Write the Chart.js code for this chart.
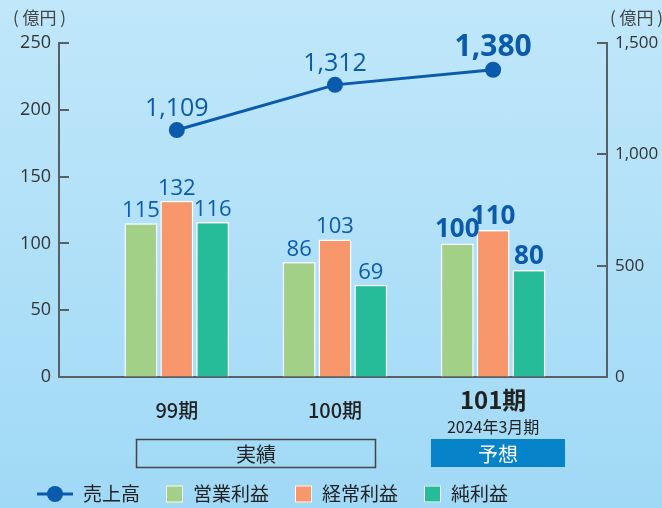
<!DOCTYPE html>
<html>
<head>
<meta charset="utf-8">
<script src="https://cdn.jsdelivr.net/npm/chart.js@4/dist/chart.umd.min.js"></script>
<style>
  html, body { margin: 0; padding: 0; }
  body { width: 662px; height: 508px; background: linear-gradient(#c0e7fa, #a0d9f6); }
  canvas { display: block; }
</style>
</head>
<body>
<canvas id="chart" width="662" height="508"></canvas>
<script>
const periods = ['99期', '100期', '101期'];
const subLabel = '2024年3月期';
const sales = [1109, 1312, 1380];
const operatingProfit = [115, 86, 100];
const ordinaryProfit = [132, 103, 110];
const netProfit = [116, 69, 80];
const leftTicks = [0, 50, 100, 150, 200, 250];
const rightTicks = [0, 500, 1000, 1500];
const unitLabel = '( 億円 )';
const groupLabels = ['実績', '予想'];

const JP = '"Noto Sans CJK JP", sans-serif';
const NUM = '"Open Sans", "Noto Sans CJK JP", sans-serif';
const BLUE = '#0a5bab';

const pts = arr => arr.map((v, i) => ({ x: i, y: v }));

// value labels, axis ticks drawn inward, category labels, boxes, legend
const decor = {
  id: 'decor',
  afterDatasetsDraw(chart) {
    const ctx = chart.ctx;
    ctx.save();
    ctx.fillStyle = BLUE;
    ctx.textAlign = 'center';
    ctx.textBaseline = 'alphabetic';
    chart.data.datasets.forEach((ds, di) => {
      const meta = chart.getDatasetMeta(di);
      meta.data.forEach((el, i) => {
        const v = ds.data[i].y;
        const txt = v.toLocaleString('en-US');
        if (ds.type === 'line') {
          ctx.font = i === 2 ? 'bold 30px ' + NUM : '25px ' + NUM;
          ctx.fillText(txt, el.x, el.y - 14);
        } else {
          ctx.font = i === 2 ? 'bold 26px ' + NUM : '22px ' + NUM;
          ctx.fillText(txt, el.x, el.y - 6);
        }
      });
    });
    ctx.restore();
  },
  afterDraw(chart) {
    const ctx = chart.ctx;
    const a = chart.chartArea;
    const x = chart.scales.x, y = chart.scales.y, y1 = chart.scales.y1;
    ctx.save();
    ctx.strokeStyle = '#5a5f63';
    ctx.lineWidth = 2;
    leftTicks.forEach(t => {
      const py = Math.round(y.getPixelForValue(t));
      ctx.beginPath(); ctx.moveTo(a.left, py); ctx.lineTo(a.left + 10, py); ctx.stroke();
    });
    rightTicks.forEach(t => {
      const py = Math.round(y1.getPixelForValue(t));
      ctx.beginPath(); ctx.moveTo(a.right, py); ctx.lineTo(a.right - 10, py); ctx.stroke();
    });

    // unit labels
    ctx.fillStyle = '#444';
    ctx.font = '17px ' + JP;
    ctx.textBaseline = 'middle';
    ctx.textAlign = 'left';
    ctx.fillText(unitLabel, 13, 18);
    ctx.fillText(unitLabel, 610, 18);

    // category labels
    ctx.textAlign = 'center';
    ctx.fillStyle = '#222';
    periods.forEach((p, i) => {
      const px = x.getPixelForValue(i);
      if (i === 2) {
        ctx.font = 'bold 24px ' + JP;
        ctx.fillText(p, px, 400);
        ctx.font = '16px ' + JP;
        ctx.fillText(subLabel, px, 427);
      } else {
        ctx.font = '500 20px ' + JP;
        ctx.fillText(p, px, 410);
      }
    });

    // 実績 / 予想 boxes
    ctx.lineWidth = 1.5;
    ctx.strokeStyle = '#444';
    ctx.strokeRect(136.5, 439.5, 239, 28);
    ctx.font = '20px ' + JP;
    ctx.fillStyle = '#222';
    ctx.fillText(groupLabels[0], 256, 454);
    ctx.fillStyle = '#0683c9';
    ctx.fillRect(431, 439, 134, 28);
    ctx.fillStyle = '#fff';
    ctx.fillText(groupLabels[1], 498, 454);

    // legend
    const ly = 494;
    let lx = 37;
    ctx.font = '19px ' + JP;
    ctx.textAlign = 'left';
    chart.data.datasets.slice().sort((p, q) => p.legendIndex - q.legendIndex).forEach(ds => {
      if (ds.type === 'line') {
        ctx.strokeStyle = ds.borderColor;
        ctx.lineWidth = 3;
        ctx.beginPath(); ctx.moveTo(lx, ly); ctx.lineTo(lx + 36, ly); ctx.stroke();
        ctx.fillStyle = ds.borderColor;
        ctx.beginPath(); ctx.arc(lx + 18, ly, 8, 0, Math.PI * 2); ctx.fill();
        lx += 46;
      } else {
        ctx.fillStyle = ds.backgroundColor;
        ctx.fillRect(lx, ly - 8.5, 17, 17);
        ctx.strokeStyle = '#fff';
        ctx.lineWidth = 1;
        ctx.strokeRect(lx + 0.5, ly - 8, 16, 16);
        lx += 27;
      }
      ctx.fillStyle = '#222';
      ctx.fillText(ds.label, lx, ly);
      lx += ctx.measureText(ds.label).width + 26;
    });
    ctx.restore();
  }
};

new Chart(document.getElementById('chart'), {
  type: 'bar',
  data: {
    datasets: [
      {
        type: 'line', label: '売上高', data: pts(sales), yAxisID: 'y1', order: 0, legendIndex: 0,
        borderColor: BLUE, backgroundColor: BLUE, borderWidth: 3,
        pointRadius: 8, pointBackgroundColor: BLUE, pointBorderWidth: 0
      },
      {
        label: '営業利益', data: pts(operatingProfit), yAxisID: 'y', order: 1, legendIndex: 1,
        backgroundColor: '#a2d086', borderColor: '#ffffff', borderWidth: 1.5
      },
      {
        label: '経常利益', data: pts(ordinaryProfit), yAxisID: 'y', order: 1, legendIndex: 2,
        backgroundColor: '#f8976b', borderColor: '#ffffff', borderWidth: 1.5
      },
      {
        label: '純利益', data: pts(netProfit), yAxisID: 'y', order: 1, legendIndex: 3,
        backgroundColor: '#27bc99', borderColor: '#ffffff', borderWidth: 1.5
      }
    ]
  },
  options: {
    responsive: false,
    animation: false,
    layout: { padding: { top: 43, bottom: 0, left: 0, right: 0 } },
    categoryPercentage: 0.68,
    barPercentage: 0.92,
    plugins: {
      legend: { display: false },
      tooltip: { enabled: false }
    },
    scales: {
      x: {
        type: 'linear',
        offset: false,
        min: -0.745,
        max: 2.72,
        afterBuildTicks: s => { s.ticks = periods.map((p, i) => ({ value: i })); },
        afterFit: s => { s.height = 131; },
        ticks: { display: false },
        grid: { display: false, drawTicks: false },
        border: { display: true, color: '#5a5f63', width: 2 }
      },
      y: {
        position: 'left',
        min: 0, max: 250,
        afterBuildTicks: s => { s.ticks = leftTicks.map(v => ({ value: v })); },
        afterFit: s => { s.width = 59; },
        ticks: { padding: 8, color: '#333', font: { family: NUM, size: 18 } },
        grid: { drawOnChartArea: false, drawTicks: false },
        border: { display: true, color: '#5a5f63', width: 2 }
      },
      y1: {
        position: 'right',
        min: 0, max: 1500,
        afterBuildTicks: s => { s.ticks = rightTicks.map(v => ({ value: v })); },
        afterFit: s => { s.width = 55; },
        ticks: {
          padding: 8, color: '#333', font: { family: NUM, size: 17 },
          callback: v => v.toLocaleString('en-US')
        },
        grid: { drawOnChartArea: false, drawTicks: false },
        border: { display: true, color: '#5a5f63', width: 2 }
      }
    }
  },
  plugins: [decor]
});
</script>
</body>
</html>
